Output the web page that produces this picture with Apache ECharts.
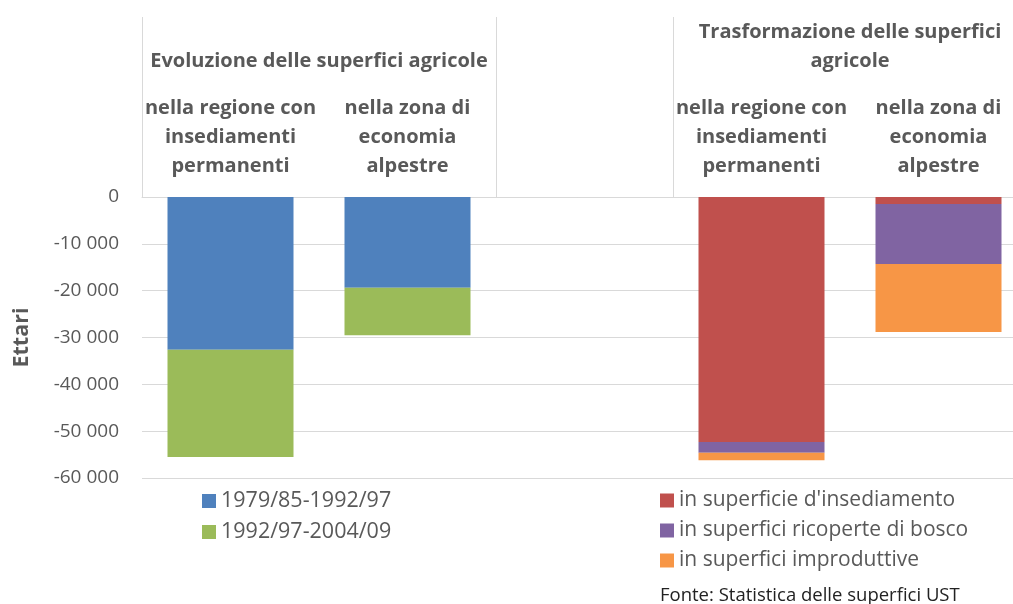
<!DOCTYPE html>
<html>
<head>
<meta charset="utf-8">
<script src="https://cdn.jsdelivr.net/npm/echarts@6/dist/echarts.min.js"></script>
<style>
  html, body { margin: 0; padding: 0; background: #fff; }
  #chart { width: 1013px; height: 604px; }
</style>
</head>
<body>
<div id="chart"></div>
<script>
// categories (the third one is an empty spacer column)
const categories = ["reg1", "alp1", "gap", "reg2", "alp2"];
const categoryLabels = [
    "nella regione con\ninsediamenti\npermanenti",
    "nella zona di\neconomia\nalpestre",
    "",
    "nella regione con\ninsediamenti\npermanenti",
    "nella zona di\neconomia\nalpestre",
];
const groupTitles = [
    { text: "Evoluzione delle superfici agricole", from: 0, to: 1 },
    { text: "Trasformazione delle superfici\nagricole", from: 3, to: 4 },
];

// series values (ettari)
const period1 = [-32600, -19400, null, null, null];
const period2 = [-22900, -10100, null, null, null];
const insediamento = [null, null, null, -52300, -1500];
const bosco = [null, null, null, -2300, -12800];
const improduttive = [null, null, null, -1600, -14500];

const yTicks = [0, -10000, -20000, -30000, -40000, -50000, -60000];

const FONT = "Open Sans";
const GREY = "#595959";

function fmt(v) {
    const s = Math.abs(v).toString().replace(/\B(?=(\d{3})+(?!\d))/g, " ");
    return (v < 0 ? "-" : "") + s;
}

function bar(name, data, color) {
    return {
        name, type: "bar", stack: "all", data,
        barWidth: 126,
        itemStyle: { color },
    };
}

function render_chart() {
    const chart = echarts.init(document.getElementById("chart"));
    chart.setOption({
        animation: false,
        textStyle: { fontFamily: FONT },
        // the plot runs a little past the right edge of the picture
        grid: { left: 142, width: 885, top: 197, bottom: 126, outerBoundsMode: "none", containLabel: false },
        xAxis: {
            type: "category",
            position: "top",
            data: categories,
            axisLine: { lineStyle: { color: "#d9d9d9", width: 1 } },
            axisTick: {
                show: true, length: 180,
                interval: (i) => i === 0 || i === 2 || i === 3,
                lineStyle: { color: "#d9d9d9" },
            },
            axisLabel: {
                interval: 0, margin: 16,
                formatter: (v, i) => categoryLabels[i],
                fontFamily: FONT, fontWeight: "bold", fontSize: 20,
                lineHeight: 29, color: GREY,
            },
        },
        yAxis: {
            type: "value",
            min: yTicks[yTicks.length - 1], max: yTicks[0], interval: 10000,
            name: "Ettari", nameLocation: "middle", nameGap: 109, nameRotate: 90,
            nameTextStyle: { fontFamily: FONT, fontWeight: "bold", fontSize: 21.5, color: GREY },
            axisLine: { show: false },
            axisTick: { show: false },
            axisLabel: { formatter: fmt, fontSize: 19, color: GREY, margin: 23, fontFamily: FONT },
            splitLine: { lineStyle: { color: "#d9d9d9", width: 1 } },
        },
        legend: [
            {
                data: ["1979/85-1992/97", "1992/97-2004/09"],
                orient: "vertical", left: 197, top: 485,
                itemWidth: 14, itemHeight: 14, itemGap: 9,
                icon: "rect",
                textStyle: { fontFamily: FONT, fontSize: 21.5, color: GREY },
            },
            {
                data: ["in superficie d'insediamento", "in superfici ricoperte di bosco", "in superfici improduttive"],
                orient: "vertical", left: 655, top: 485,
                itemWidth: 14, itemHeight: 14, itemGap: 9,
                icon: "rect",
                textStyle: { fontFamily: FONT, fontSize: 21, color: GREY },
            },
        ],
        series: [
            bar("1979/85-1992/97", period1, "#4f81bd"),
            bar("1992/97-2004/09", period2, "#9bbb59"),
            bar("in superficie d'insediamento", insediamento, "#c0504d"),
            bar("in superfici ricoperte di bosco", bosco, "#8064a2"),
            bar("in superfici improduttive", improduttive, "#f79646"),
        ],
    });

    // group titles centered over their categories
    const elements = groupTitles.map((g) => {
        const x0 = chart.convertToPixel({ xAxisIndex: 0 }, categories[g.from]);
        const x1 = chart.convertToPixel({ xAxisIndex: 0 }, categories[g.to]);
        return {
            type: "text", x: (x0 + x1) / 2, y: 76,
            style: {
                text: g.text, align: "center", verticalAlign: "bottom",
                fontFamily: FONT, fontWeight: "bold", fontSize: 20, lineHeight: 29, fill: GREY,
            },
        };
    });
    elements.push({
        type: "text", left: 660, top: 586,
        style: { text: "Fonte: Statistica delle superfici UST", fontFamily: FONT, fontSize: 18.5, fill: "#222" },
    });
    chart.setOption({ graphic: elements });
}

window.addEventListener("load", render_chart);
</script>
</body>
</html>
